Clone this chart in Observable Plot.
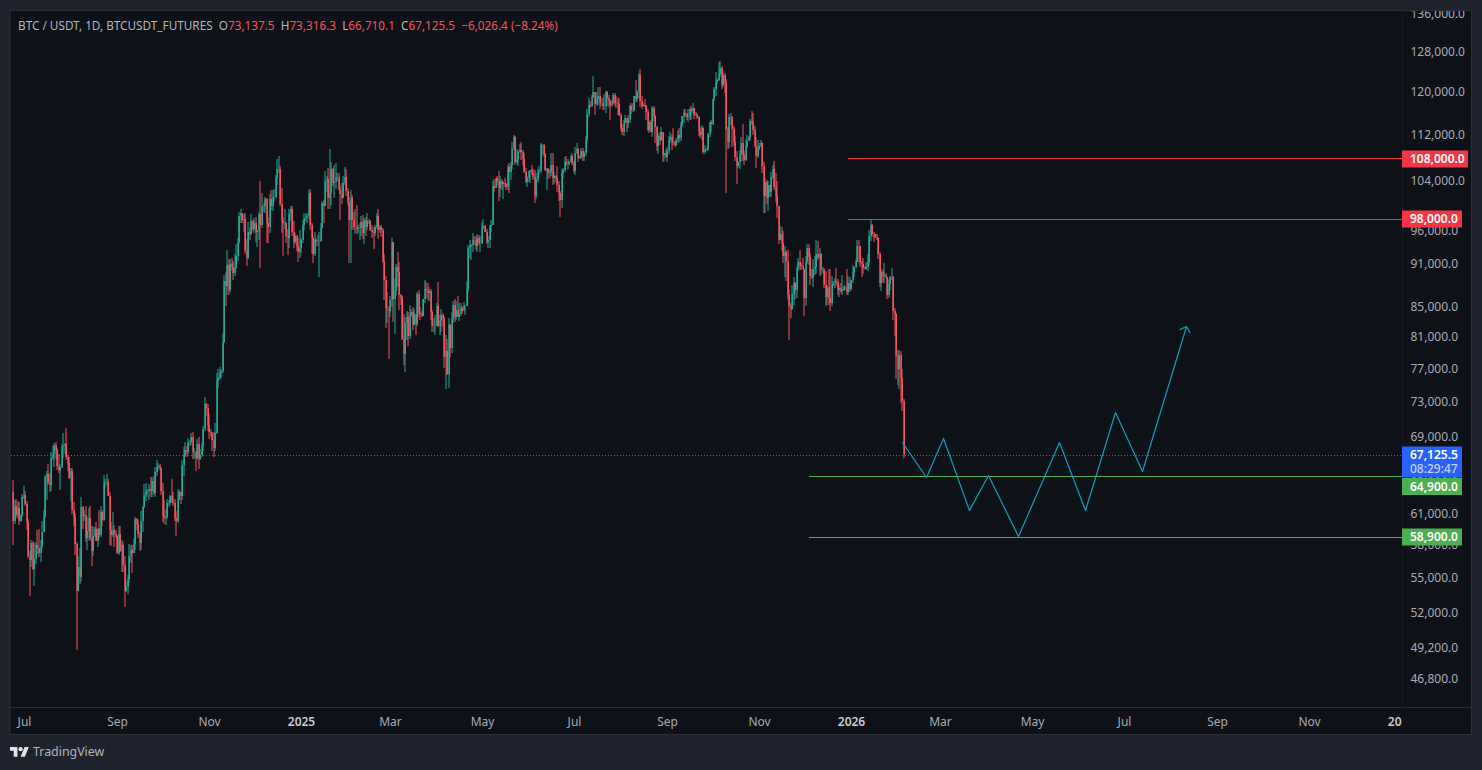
<!DOCTYPE html>
<html><head><meta charset="utf-8">
<script src="https://cdn.jsdelivr.net/npm/d3@7"></script>
<script src="https://cdn.jsdelivr.net/npm/@observablehq/plot@0.6"></script>
<style>
html,body{margin:0;padding:0;background:#1e222d;width:1482px;height:770px;overflow:hidden}
#wrap{position:relative;width:1482px;height:770px;font-family:"Noto Sans",sans-serif}
#wrap svg{display:block;position:absolute;left:0;top:0}
#legend{position:absolute;left:18px;top:17px;font-size:11.75px;line-height:16px;color:#b2b5be;white-space:pre}
#legend b{font-weight:400;color:#f7525f}
#brand{position:absolute;left:33px;top:743px;font-size:12.4px;line-height:18px;color:#b2b5be}
</style></head><body>
<div id="wrap"><div id="chart"></div>
<div id="legend">BTC / USDT, 1D, BTCUSDT_FUTURES  O<b>73,137.5</b>  H<b>73,316.3</b>  L<b>66,710.1</b>  C<b>67,125.5</b>  <b>−6,026.4 (−8.24%)</b></div>
<div id="brand">TradingView</div></div>
<script>
// Daily candles in thousands of USDT, first candle 2024-06-24, last 2026-02-05. One line per month.
const firstDay = "2024-06-24";
const firstOpen = 63.2;
const closes = [
60.3,61.8,60.9,61.6,60.3,60.9,62.7,
62.9,62.0,60.2,57.0,56.6,58.2,55.8,56.7,58.0,57.7,57.3,57.9,59.2,60.8,64.7,65.0,64.1,63.9,66.7,67.1,68.1,67.6,65.9,65.4,65.8,67.9,68.0,68.2,66.8,66.2,64.6,
65.3,61.4,60.7,58.1,53.9,56.0,55.1,61.7,60.8,60.9,58.7,59.3,60.6,58.7,57.5,58.9,59.5,58.4,59.5,59.0,61.2,60.4,64.1,64.2,64.2,62.8,59.4,59.0,59.4,59.1,58.9,
57.3,59.1,57.5,58.0,56.2,53.9,54.2,54.9,57.0,57.6,57.3,58.1,60.5,60.0,59.1,58.2,60.3,61.7,62.9,63.2,63.3,63.5,63.3,64.3,63.1,65.2,65.8,65.9,65.6,63.3,
60.8,60.6,60.7,62.1,62.1,62.8,62.2,62.1,60.6,60.3,62.4,63.2,62.8,66.0,67.0,67.6,67.4,68.4,68.4,69.0,67.4,67.4,66.7,68.2,66.6,67.0,68.0,69.9,72.7,72.3,70.3,
69.5,69.3,68.7,67.8,69.4,75.6,75.9,76.5,76.7,80.4,88.6,87.9,90.9,87.3,91.0,90.6,89.8,90.5,92.3,94.3,98.3,98.9,97.7,97.9,93.0,91.9,95.9,95.6,97.5,96.4,
97.2,95.8,96.0,98.7,97.0,99.9,99.9,101.1,97.3,96.6,101.1,100.0,101.4,101.4,104.5,106.1,106.1,100.2,97.5,97.3,97.3,95.2,94.9,98.7,99.4,95.8,94.3,95.3,93.7,92.8,93.5,
94.6,96.9,98.1,98.2,98.3,102.1,96.9,95.0,92.5,94.7,94.5,94.5,94.5,96.5,100.5,99.9,104.1,104.4,101.2,102.0,106.1,103.7,103.9,104.7,104.7,102.6,101.9,101.3,103.7,104.7,102.4,
100.6,97.7,101.3,97.8,96.6,96.6,96.4,96.5,96.5,97.4,95.7,97.8,96.6,97.5,97.6,96.1,95.8,95.7,96.6,98.3,96.1,96.6,96.2,91.5,88.7,84.7,84.7,84.4,
86.0,94.3,86.1,87.2,90.6,89.9,86.7,86.2,80.7,78.8,82.9,83.7,81.1,83.9,84.3,82.6,84.0,82.7,86.8,84.2,84.1,83.8,86.1,87.5,87.4,86.9,87.2,84.3,82.4,82.4,82.5,
85.2,82.5,83.1,83.9,83.5,78.4,79.2,76.3,82.6,79.6,83.4,85.3,83.7,84.6,83.7,84.0,84.9,84.5,85.1,85.2,87.5,93.4,93.7,93.9,94.7,94.6,93.7,94.9,94.2,94.2,
96.5,96.8,95.9,94.3,94.7,96.8,97.0,103.2,102.9,104.6,104.1,102.8,104.1,103.5,103.7,103.5,103.1,106.4,105.6,106.8,109.6,111.7,107.3,107.8,109.0,109.4,109.0,107.8,105.6,103.9,104.6,
105.7,105.9,105.4,104.7,101.5,104.3,105.6,105.7,110.3,110.3,108.7,105.9,106.0,105.4,105.6,106.8,104.5,104.8,104.6,103.3,102.1,100.9,105.4,105.9,107.3,106.9,107.0,107.3,108.3,107.1,
105.7,108.8,109.6,108.0,108.2,109.2,108.2,108.9,111.3,115.9,117.5,117.4,119.1,120.0,117.7,118.6,119.2,117.9,117.9,117.3,117.4,120.0,118.8,118.3,117.6,117.9,119.4,118.0,117.9,117.8,115.7,
113.3,112.5,114.2,115.1,114.1,115.0,117.4,116.6,116.5,119.3,118.7,120.1,123.3,118.3,117.4,117.5,117.4,116.2,112.9,114.3,112.5,116.9,115.4,113.5,110.1,111.8,111.2,112.6,108.4,108.8,108.2,
109.2,111.2,111.7,110.7,110.6,110.2,111.1,112.0,111.4,113.9,115.5,116.0,115.9,115.2,115.3,116.7,116.4,117.0,115.6,115.7,115.3,112.7,112.0,113.3,109.0,109.6,109.6,112.1,114.4,114.0,
118.6,120.6,122.2,122.4,123.5,124.7,121.4,123.3,121.7,113.0,110.8,115.2,115.2,113.0,110.8,108.2,106.5,107.2,108.7,110.5,108.4,107.6,110.0,111.0,111.6,114.5,114.1,112.9,110.0,108.3,109.6,
110.1,110.5,106.5,101.5,103.9,101.3,103.3,102.3,104.7,106.0,103.0,101.6,100.0,94.6,95.6,94.2,92.2,92.9,91.5,86.6,85.1,84.7,86.8,88.3,87.4,90.5,91.3,90.9,90.8,90.4,
86.3,91.3,93.4,92.1,89.3,89.2,90.4,90.6,92.6,92.0,92.5,90.2,90.2,88.1,86.4,87.8,86.2,85.5,88.1,88.3,88.6,88.5,87.4,87.6,87.2,87.3,87.8,87.8,87.1,88.4,87.5,
88.7,89.9,90.6,91.4,93.8,93.7,91.2,91.0,90.5,90.4,90.6,91.3,95.3,96.9,95.6,95.5,95.1,94.9,92.6,88.3,89.9,89.4,89.5,89.2,86.6,88.2,89.2,89.2,84.5,84.1,78.6,
76.9,78.7,75.8,73.1375,67.1255];
const highs = [
64.4,62.4,62.5,62.3,62.2,61.0,63.0,
63.8,63.3,62.3,60.5,57.5,58.5,58.4,58.2,58.3,59.4,59.5,58.5,60.3,61.4,64.9,65.3,66.1,65.1,67.4,68.0,68.3,68.4,67.8,67.1,66.1,68.2,69.4,68.3,70.0,67.0,66.8,
65.6,65.6,62.2,61.1,58.3,57.0,57.7,62.7,61.8,61.4,61.8,60.7,61.6,61.8,59.8,59.8,59.7,60.2,59.6,61.4,61.8,61.4,64.9,64.5,65.0,64.5,63.2,60.2,61.2,59.9,59.4,
59.0,59.8,59.8,58.5,58.3,57.0,54.8,55.3,58.1,58.0,58.0,58.6,60.7,60.6,60.4,59.2,61.3,61.8,64.0,64.1,63.5,64.0,64.7,64.7,64.8,65.8,66.5,66.2,66.1,65.7,
64.1,62.4,61.5,62.5,62.4,62.9,64.5,63.2,62.5,61.3,63.4,63.5,63.3,66.5,67.9,68.4,68.0,68.9,68.7,69.4,69.5,67.8,67.5,68.8,69.0,67.7,68.3,70.2,73.6,72.9,72.7,
71.6,69.9,69.5,69.5,70.6,76.4,77.0,77.2,77.0,81.5,89.5,89.9,93.2,91.8,91.8,91.9,91.5,92.6,94.0,94.9,99.0,99.5,98.9,98.7,98.9,94.8,97.4,96.6,98.7,97.8,
98.0,98.2,96.3,99.0,104.1,102.0,100.5,101.4,101.2,98.2,101.9,102.5,102.5,102.7,105.1,107.8,108.3,106.5,102.8,98.2,99.5,97.4,96.4,99.4,99.9,99.9,97.5,95.7,95.4,94.9,96.1,
95.0,97.8,98.9,98.7,98.8,102.5,102.7,97.2,95.3,95.8,95.0,95.4,95.9,97.3,100.7,100.9,105.8,104.9,106.3,109.6,107.2,106.3,106.8,107.1,105.3,105.4,103.2,103.7,104.8,106.4,106.0,
102.8,101.4,102.5,101.7,99.0,99.5,100.1,96.9,97.3,98.3,98.5,98.1,98.2,98.8,97.9,97.7,97.0,96.7,97.0,98.8,99.5,96.9,96.9,96.5,92.5,89.4,87.0,85.1,
86.5,95.0,94.4,88.9,91.0,92.8,91.3,86.8,86.5,84.0,83.6,84.4,84.3,85.3,84.7,85.0,84.7,84.0,87.0,87.4,85.0,84.5,86.0,88.7,88.5,88.3,87.8,87.5,84.6,83.5,83.9,
85.5,88.5,83.9,84.7,84.2,83.8,81.2,80.8,83.5,82.7,84.3,85.8,86.1,85.8,86.5,85.5,85.5,85.1,85.7,85.3,88.6,93.9,94.7,94.0,95.7,95.3,95.2,95.6,95.4,95.2,
97.4,97.9,96.9,96.3,95.2,96.9,97.7,104.0,104.3,104.4,104.9,105.8,104.9,104.3,104.1,104.5,103.7,106.7,107.1,107.3,110.7,112.0,111.9,109.5,109.3,110.4,110.7,109.3,108.9,106.3,104.9,
105.8,105.9,106.8,106.0,105.9,105.4,106.0,106.5,110.5,110.4,110.4,108.8,106.2,106.2,106.1,108.9,108.8,105.5,105.0,106.5,104.0,102.4,106.1,106.3,108.1,108.3,107.7,107.5,108.5,108.8,
107.5,109.8,110.5,109.7,108.4,109.7,109.7,109.2,111.9,116.8,118.9,118.2,119.4,123.2,120.0,120.0,120.9,120.9,118.9,118.8,119.7,120.2,120.2,119.5,118.5,118.5,119.8,119.8,119.2,118.8,118.9,
116.0,114.0,114.8,115.7,115.1,115.7,117.6,117.9,117.9,119.3,122.3,120.3,123.7,124.5,119.3,118.0,118.6,117.6,116.8,114.6,114.8,117.4,117.4,115.7,113.6,112.4,112.6,113.5,112.6,108.9,109.5,
109.9,111.8,112.6,112.2,113.3,111.0,111.4,112.9,113.2,114.3,115.5,116.7,116.7,116.0,116.8,117.0,117.3,117.9,117.0,116.2,116.0,115.4,113.4,113.9,113.5,110.3,109.8,112.4,114.4,114.8,
118.6,121.0,123.9,122.8,125.9,126.2,125.1,124.1,123.7,122.5,113.4,115.8,116.0,115.4,113.6,111.9,109.2,107.5,109.4,111.7,114.0,109.2,111.3,112.0,111.9,115.0,116.4,116.1,113.6,111.6,111.2,
110.6,111.2,110.8,107.3,104.5,104.2,104.0,103.4,105.5,106.7,107.4,105.3,104.1,100.0,96.8,96.6,96.0,93.8,93.2,93.1,87.5,85.6,88.1,89.2,88.5,90.7,91.9,93.1,91.2,92.0,
90.4,92.3,94.1,94.1,92.7,90.3,91.8,92.3,94.6,94.5,93.5,92.7,90.6,90.5,90.0,88.1,90.3,90.3,89.4,88.6,89.1,90.5,88.9,88.0,88.4,89.5,87.9,88.0,90.3,89.3,89.2,
88.8,90.9,90.6,91.8,94.7,94.7,93.7,91.5,91.9,90.8,91.3,92.5,96.2,97.9,97.1,95.8,95.6,95.5,94.9,92.8,90.4,90.2,91.2,89.8,89.2,88.9,89.3,90.5,89.3,84.9,84.2,
79.3,79.3,79.2,76.9,73.3163];
const lows = [
58.0,60.0,60.6,60.6,59.9,60.2,60.7,
62.5,61.8,59.4,56.8,53.5,56.0,55.7,54.3,56.3,57.2,56.9,56.5,57.7,59.2,60.6,62.4,63.9,63.2,63.3,66.5,65.8,66.6,65.4,65.1,63.4,65.7,66.7,67.1,66.5,65.3,64.5,
62.3,61.0,59.8,57.1,49.0,53.9,54.5,54.7,59.5,60.3,58.3,57.6,58.5,58.4,56.1,57.0,58.8,58.4,57.8,58.6,58.8,59.8,60.3,63.6,63.8,62.8,58.0,57.9,58.8,57.8,58.7,
57.2,57.1,57.4,55.6,55.6,52.5,53.8,53.6,54.6,56.4,55.5,57.3,57.6,59.4,58.7,57.5,57.6,59.2,61.6,62.3,62.7,62.4,62.7,62.7,62.9,62.7,64.8,65.4,65.4,62.9,
60.2,60.0,59.9,60.5,61.7,61.9,62.1,61.8,60.3,58.9,60.1,62.4,62.0,62.4,64.8,66.8,66.8,67.1,68.0,68.1,66.6,66.6,65.3,66.5,65.5,66.5,66.8,67.5,69.7,71.4,69.7,
68.8,69.0,67.5,66.8,67.5,69.3,74.7,75.6,75.9,76.5,80.2,85.1,86.6,86.7,87.1,90.0,88.7,89.4,90.3,91.5,94.1,97.2,97.2,95.8,92.6,90.8,91.8,94.6,95.4,96.0,
95.7,94.3,93.6,94.7,90.5,96.5,99.0,98.8,94.2,94.2,95.7,99.3,99.2,100.6,101.2,103.3,105.3,100.0,95.7,92.2,96.4,94.2,92.4,93.5,97.6,95.2,93.5,94.1,93.0,91.3,92.0,
92.7,94.2,96.1,97.5,97.2,97.9,96.1,92.5,91.2,92.2,93.8,93.7,89.2,94.3,96.5,97.3,99.9,102.3,99.5,99.4,100.1,103.2,101.2,102.7,104.1,102.5,97.7,100.3,101.3,103.3,101.5,
100.1,91.2,91.2,96.1,96.1,95.6,95.6,95.7,94.7,95.3,94.8,94.0,95.2,96.2,97.1,96.0,95.0,93.3,95.2,96.4,94.8,95.7,95.1,91.2,86.0,82.2,82.8,78.2,
83.7,85.0,83.0,81.4,86.5,87.8,84.6,85.3,80.6,77.5,76.6,80.6,79.9,80.8,83.7,81.9,82.6,81.2,82.4,83.7,83.2,83.7,83.8,85.5,86.3,85.9,85.8,83.2,81.6,81.6,81.3,
82.4,82.3,81.2,81.6,82.3,77.1,74.5,76.2,74.6,78.5,78.9,82.8,83.0,83.2,83.6,83.1,83.8,84.1,84.4,83.9,85.1,87.1,91.9,91.7,92.8,93.9,93.1,92.9,93.9,92.9,
94.1,96.3,95.8,94.1,93.5,93.4,95.8,96.9,102.3,102.8,103.3,100.7,101.4,102.6,101.1,103.1,102.6,102.6,102.0,104.2,106.1,109.3,106.8,106.9,106.6,108.9,107.6,106.8,105.3,103.7,103.1,
103.9,103.7,105.0,104.2,100.4,101.1,103.9,105.1,105.3,108.4,108.1,105.7,102.6,104.3,104.5,104.9,103.4,103.5,103.9,102.3,100.8,98.2,99.6,104.6,105.5,106.6,106.1,106.8,107.2,106.7,
105.3,105.1,108.6,107.2,107.8,107.8,107.5,107.4,108.3,110.6,115.2,116.9,117.2,118.9,115.7,117.3,117.5,116.8,117.3,116.5,116.5,116.1,117.3,117.1,114.7,117.2,117.8,117.4,116.9,115.7,115.5,
112.7,112.0,111.9,114.1,112.6,113.3,114.2,115.9,116.2,116.4,118.1,118.1,118.9,117.2,116.8,117.2,117.2,114.7,112.7,112.4,112.6,111.7,114.5,110.5,109.2,108.7,110.3,110.9,107.3,107.4,108.0,
107.3,108.7,110.6,109.3,110.2,109.9,110.0,110.6,110.8,110.9,113.4,114.2,115.3,114.8,114.3,114.7,114.7,116.1,115.0,115.5,115.0,111.9,111.5,111.1,108.6,108.6,109.1,109.2,111.6,112.6,
113.9,118.3,119.3,121.6,122.1,123.0,120.6,121.0,119.9,102.0,109.6,109.7,113.8,109.9,110.1,107.4,103.5,106.3,106.1,107.4,107.4,106.7,107.4,109.7,110.9,111.2,113.9,112.0,109.9,106.3,108.0,
109.4,109.8,105.3,98.9,98.9,100.3,99.2,101.4,101.4,104.3,102.5,100.6,98.0,94.0,94.6,93.0,91.2,89.2,88.6,86.0,80.6,83.5,84.6,85.3,86.1,86.3,90.0,90.2,90.2,90.3,
83.8,85.2,91.0,90.9,88.1,88.9,87.7,89.5,89.6,91.6,89.3,89.5,89.8,87.6,85.1,85.3,85.3,84.4,85.1,87.9,87.6,87.9,86.6,86.4,86.9,86.6,87.2,87.4,86.7,86.6,87.0,
87.4,88.4,89.2,90.5,91.3,91.3,90.7,89.2,89.6,90.3,90.2,90.0,90.9,94.5,95.1,94.3,94.9,94.7,91.8,87.8,87.2,88.4,88.4,89.1,86.1,86.2,87.2,88.8,83.3,81.1,75.7,
75.0,74.5,72.9,71.9,66.7101];

// Drawings on the chart
const levelPrices = [108000, 98000, 64900, 58900];
const levelStarts = ["2025-12-30", "2025-12-30", "2025-12-04", "2025-12-04"];
const levelColors = ["#f23645", "#f23645", "#4caf50", "#4caf50"];
const pathDates = ["2026-02-04","2026-02-20","2026-03-03","2026-03-20","2026-04-02","2026-04-22","2026-05-19","2026-06-05","2026-06-25","2026-07-13"];
const pathPrices = [68400,64700,68900,61400,64900,58900,68500,61400,71800,65300];
const arrowFrom = {date:"2026-07-13",price:65300};
const arrowTo = {date:"2026-08-11",price:82500};
const lastPrice = 67125.5;

// Axes
const priceTicks = [136000,128000,120000,112000,104000,96000,91000,85000,81000,77000,73000,69000,65000,61000,58000,55000,52000,49200,46800];
const monthTicks = ["2024-07-01","2024-09-01","2024-11-01","2025-03-01","2025-05-01","2025-07-01","2025-09-01","2025-11-01","2026-03-01","2026-05-01","2026-07-01","2026-09-01","2026-11-01"];
const yearTicks = ["2025-01-01","2026-01-01","2027-01-01"];
const monthNames = ["Jan","Feb","Mar","Apr","May","Jun","Jul","Aug","Sep","Oct","Nov","Dec"];

// Axis price tags
const tagPrices = [108000, 98000, 64900, 58900];
const tagTexts = ["108,000.0","98,000.0","64,900.0","58,900.0"];
const tagColors = ["#f23645","#f23645","#4caf50","#4caf50"];

if (closes.length!==592||highs.length!==592||lows.length!==592) throw new Error("lengths "+closes.length+" "+highs.length+" "+lows.length);

const start = new Date(firstDay+"T00:00:00Z");
const candles = closes.map((c,i)=>{
  const open = (i===0?firstOpen:closes[i-1])*1000;
  return {date:d3.utcDay.offset(start,i),open,close:c*1000,high:highs[i]*1000,low:lows[i]*1000,dir:c*1000>=open?"up":"down"};
});
const D = s=>new Date(s+"T00:00:00Z");
const levels = levelPrices.map((p,i)=>({price:p,start:D(levelStarts[i]),color:levelColors[i]}));
const path = pathDates.map((d,i)=>({date:D(d),price:pathPrices[i]}));
const xEnd = new Date("2027-01-01T14:00:00Z");

const NS="http://www.w3.org/2000/svg";
const el=(n,a,p)=>{const e=document.createElementNS(NS,n);for(const k in a)e.setAttribute(k,a[k]);if(p)p.appendChild(e);return e;};

const BG="#1e222d", PANEL="#0e1118", LINE="#2a2e39", AXIS="#a9acb5";

function panel(){ const g=el("g",{});
  el("rect",{x:10,y:10,width:1461.5,height:724.5,fill:PANEL,stroke:LINE},g);
  el("line",{x1:10,x2:1471,y1:707.5,y2:707.5,stroke:LINE},g);
  el("line",{x1:1402.5,x2:1402.5,y1:10,y2:734,stroke:"#151922"},g);
  return g;}
function axisMask(){ const g=el("g",{});
  el("rect",{x:1402,y:708,width:69,height:26,fill:PANEL},g);
  el("rect",{x:0,y:0,width:1482,height:10,fill:BG},g);
  el("line",{x1:10,x2:1471,y1:10.5,y2:10.5,stroke:LINE},g);
  return g;}
function priceTag(index,scales){ const g=el("g",{"font-size":12,"font-family":"Noto Sans,sans-serif","font-weight":600,"text-anchor":"start"});
  tagPrices.forEach((p,i)=>{
    let y=scales.y(p)+1;
    if(p===64900) y+=10.5;            // pushed down by the last-price tag, as in the platform
    const t=tagTexts[i], w=t.length*6+12;
    el("rect",{x:1402,y:y-8.5,width:w,height:17,fill:tagColors[i]},g);
    const tx=el("text",{x:1410,y:y+4.2,fill:"#fff"},g); tx.textContent=t;
  });
  const y=scales.y(lastPrice)+1;
  el("rect",{x:1402,y:y-8.5,width:60,height:31,fill:"#2962ff"},g);
  const a=el("text",{x:1410,y:y+4.2,fill:"#fff"},g); a.textContent="67,125.5";
  const b=el("text",{x:1410,y:y+18,fill:"#c4d3ff","font-weight":500},g); b.textContent="08:29:47";
  return g;}
function logo(){ const g=el("g",{transform:"translate(10,745) scale(.53)",fill:"#e3e5ea"});
  el("path",{d:"M14 22H7V11H0V4h14v18zM28 22h-8l7.5-18h8L28 22z"},g);
  el("circle",{cx:20,cy:8,r:4},g);
  return g;}

const chart = Plot.plot({
  width:1482,height:770,
  marginLeft:11,marginRight:80,marginTop:0,marginBottom:63,
  style:{background:"transparent",fontFamily:"Noto Sans,sans-serif",fontSize:"12px",overflow:"hidden"},
  x:{type:"utc",domain:[new Date("2024-06-22T10:00:00Z"),xEnd],range:[11,1402],round:true},
  y:{type:"log",domain:[46800,136000],range:[679,14],round:true},
  color:{domain:["up","down"],range:["#22ab94","#f7525f"]},
  marks:[
    panel,
    Plot.ruleY([lastPrice],{stroke:"#2962ff",strokeWidth:1,strokeDasharray:"1,2",dy:1}),
    Plot.ruleX(candles,{x:"date",y1:"low",y2:"high",stroke:"dir",strokeWidth:1,dx:-0.5}),
    Plot.ruleX(candles,{x:"date",y1:"open",y2:"close",stroke:"dir",strokeWidth:1.5,dx:-0.25}),
    Plot.ruleY(levels.slice(0,1),{y:"price",x1:"start",x2:()=>xEnd,stroke:"color",strokeWidth:1}),
    Plot.ruleY(levels.slice(1),{y:"price",x1:"start",x2:()=>xEnd,stroke:"color",strokeWidth:1,dy:1}),
    Plot.line(path,{x:"date",y:"price",stroke:"#0aa2bb",strokeWidth:1.2}),
    Plot.arrow([{a:D(arrowFrom.date),b:arrowFrom.price,c:D(arrowTo.date),d:arrowTo.price}],{x1:"a",y1:"b",x2:"c",y2:"d",stroke:"#0aa2bb",strokeWidth:1.2,bend:0,headLength:9,headAngle:95}),
    Plot.axisX(monthTicks.map(D),{anchor:"bottom",tickSize:0,tickPadding:9.5,label:null,tickFormat:d=>monthNames[d.getUTCMonth()],fill:AXIS,fontSize:12}),
    Plot.axisX(yearTicks.map(D),{anchor:"bottom",tickSize:0,tickPadding:9.5,label:null,tickFormat:d=>String(d.getUTCFullYear()),fill:"#c9ccd4",fontSize:12,fontWeight:600}),
    axisMask,
    Plot.axisY(priceTicks,{anchor:"right",tickSize:0,tickPadding:8,label:null,tickFormat:d=>d3.format(",.1f")(d),fill:AXIS,fontSize:12}),
    axisMask,
    priceTag,
    logo
  ]
});
document.getElementById("chart").appendChild(chart);
</script></body></html>
